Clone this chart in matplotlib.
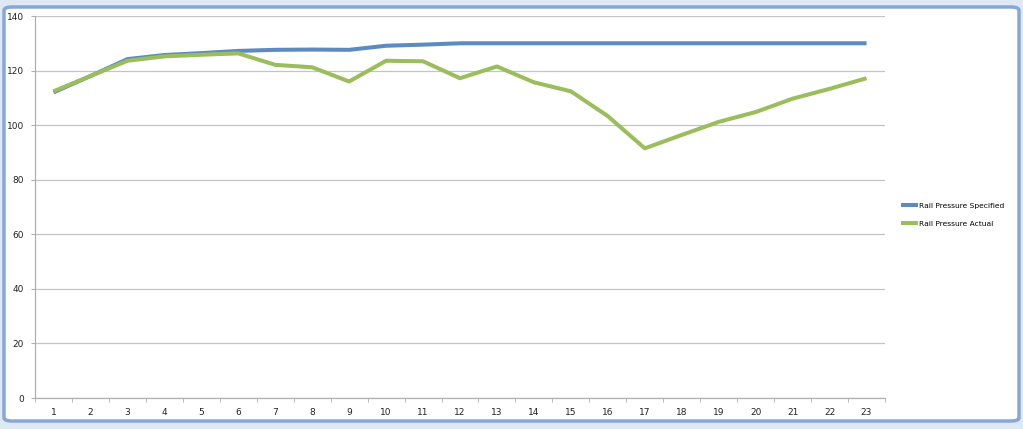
import matplotlib.pyplot as plt
from matplotlib.patches import FancyBboxPatch

# hours / sample index on the category axis
samples = list(range(1, 24))

# rail pressure readings
specified = [112.0, 118.0, 124.2, 125.7, 126.4, 127.2, 127.6, 127.7, 127.6, 129.1,
             129.5, 130.0, 130.0, 130.0, 130.0, 130.0, 130.0, 130.0, 130.0, 130.0,
             130.0, 130.0, 130.0]
actual = [112.4, 118.0, 123.6, 125.2, 125.8, 126.3, 122.1, 121.2, 116.0, 123.6,
          123.4, 117.2, 121.5, 115.7, 112.4, 103.3, 91.5, 96.4, 101.2, 104.8,
          109.7, 113.3, 117.2]

W, H = 1023, 429
fig = plt.figure(figsize=(W / 100, H / 100), dpi=100)
fig.patch.set_facecolor('#dfe8f5')

# Excel style chart frame, kept behind the axes
frame = FancyBboxPatch((4 / W, 8 / H), 1015 / W, 414 / H,
                       boxstyle="round,pad=0,rounding_size=0.008",
                       transform=fig.transFigure, facecolor='white',
                       edgecolor='#86a8d8', linewidth=2.5, zorder=-5)
fig.patches.append(frame)

ax = fig.add_axes([35 / W, (H - 398) / H, 850 / W, 382 / H])
ax.set_zorder(1)
ax.set_facecolor('none')

ax.plot(samples, specified, color='#5b8bc0', linewidth=2.9,
        solid_capstyle='butt', label='Rail Pressure Specified', zorder=3)
ax.plot(samples, actual, color='#9bbd5c', linewidth=2.9,
        solid_capstyle='butt', label='Rail Pressure Actual', zorder=4)

ax.set_xlim(0.5, 23.5)
ax.set_ylim(0, 140)
ax.set_yticks(range(0, 141, 20))
ax.set_xticks(samples)
ax.set_xticks([s - 0.5 for s in samples] + [23.5], minor=True)
ax.tick_params(axis='x', which='major', length=0, labelsize=6.5, pad=7,
               colors='#222222')
ax.tick_params(axis='x', which='minor', length=3, color='#b0b0b0')
ax.tick_params(axis='y', length=3, color='#b0b0b0', labelsize=6.5,
               labelcolor='#222222', pad=5)

ax.grid(axis='y', color='#c4c4c4', linewidth=0.9)
ax.set_axisbelow(True)
for side in ['top', 'right']:
    ax.spines[side].set_visible(False)
for side in ['left', 'bottom']:
    ax.spines[side].set_color('#b0b0b0')
    ax.spines[side].set_linewidth(0.9)

ax.legend(loc='center left', bbox_to_anchor=(1.011, 0.48), frameon=False,
          fontsize=5.4, handlelength=2.3, handletextpad=0.1, labelspacing=1.5)

fig.savefig('out.png', dpi=100, facecolor=fig.get_facecolor())
